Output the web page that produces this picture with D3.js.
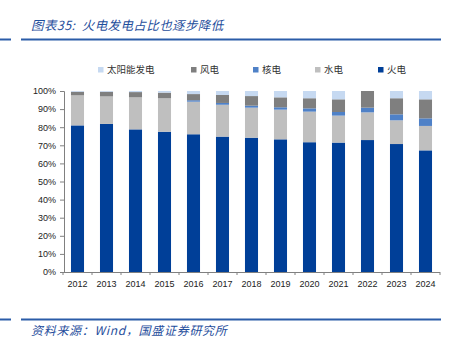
<!DOCTYPE html>
<html><head><meta charset="utf-8">
<script src="https://cdn.jsdelivr.net/npm/d3@7/dist/d3.min.js"></script>
<style>body{margin:0;background:#fff;}svg{display:block;}text{white-space:pre;}</style>
</head><body>
<svg id="c" width="455" height="342"></svg>
<script>
const years = ["2012","2013","2014","2015","2016","2017","2018","2019","2020","2021","2022","2023","2024"];
const thermal = [81.0,81.8,78.8,77.5,76.1,74.8,74.2,73.3,71.7,71.5,72.9,70.7,67.2];
const hydro   = [16.6,15.2,17.7,18.5,18.0,17.6,16.6,16.4,16.9,14.9,15.3,13.1,13.5];
const nuclear = [0.0,0.0,0.0,0.0,0.8,1.0,1.1,1.3,1.8,2.0,2.6,3.3,4.2];
const wind    = [2.0,2.6,2.9,3.1,3.4,4.4,5.3,5.5,5.6,7.0,9.2,8.9,10.5];
const solar   = [0.4,0.4,0.6,0.9,1.7,2.2,2.8,3.5,4.0,4.6,0.0,4.0,4.6];
const yTicks = [0,10,20,30,40,50,60,70,80,90,100];
const seriesNames = ["火电","水电","核电","风电","太阳能发电"];
const legendOrder = ["太阳能发电","风电","核电","水电","火电"];
const colors = {"火电":"#003f98","水电":"#bfbfbf","核电":"#4f81c7","风电":"#7f7f7f","太阳能发电":"#c6d9f1"};

const rows = years.map((y,i)=>({year:y,"火电":thermal[i],"水电":hydro[i],"核电":nuclear[i],"风电":wind[i],"太阳能发电":solar[i]}));
const stacked = d3.stack().keys(seriesNames)(rows);

const svg = d3.select("#c");
const blue = "#2b5ca8";
const cjk = "'Noto Sans CJK SC','Noto Sans',sans-serif";

// header
svg.append("text").attr("x",31).attr("y",30).attr("font-family",cjk).attr("font-style","italic")
  .attr("font-size",12.5).attr("letter-spacing",0.4).attr("fill","#1f4e9c").text("图表35:  火电发电占比也逐步降低");
svg.append("line").attr("x1",0).attr("x2",11).attr("y1",39.5).attr("y2",39.5).attr("stroke",blue).attr("stroke-width",2);
svg.append("line").attr("x1",21).attr("x2",441).attr("y1",39.5).attr("y2",39.5).attr("stroke",blue).attr("stroke-width",2);
// footer
svg.append("line").attr("x1",0).attr("x2",11).attr("y1",319.5).attr("y2",319.5).attr("stroke",blue).attr("stroke-width",2);
svg.append("line").attr("x1",21).attr("x2",441).attr("y1",319.5).attr("y2",319.5).attr("stroke",blue).attr("stroke-width",2);
svg.append("text").attr("x",31).attr("y",335).attr("font-family",cjk).attr("font-style","italic")
  .attr("font-size",12).attr("letter-spacing",0.7).attr("fill","#1f4e9c").text("资料来源：Wind，国盛证券研究所");

const x = d3.scaleBand().domain(years).range([63,440]).paddingInner(0.55).paddingOuter(0.275);
const y = d3.scaleLinear().domain([0,100]).range([272,91]);

const g = svg.append("g");
g.selectAll("g.s").data(stacked).join("g").attr("fill",d=>colors[d.key])
  .selectAll("rect").data(d=>d).join("rect")
  .attr("x",d=>x(d.data.year)).attr("width",x.bandwidth())
  .attr("y",d=>y(d[1])).attr("height",d=>Math.max(0,y(d[0])-y(d[1])));

// y axis
const ya = svg.append("g").attr("transform","translate(64,0)")
  .call(d3.axisLeft(y).tickValues(yTicks).tickFormat(d=>d+"%").tickSize(4).tickPadding(4));
ya.select(".domain").attr("stroke","#808080");
ya.selectAll(".tick line").attr("stroke","#808080");
ya.selectAll("text").attr("font-family","'Liberation Sans',Arial,sans-serif").attr("font-size",9).attr("fill","#222");

// x axis
const xa = svg.append("g").attr("transform","translate(0,272)")
  .call(d3.axisBottom(x).tickSize(0).tickPadding(9));
xa.select(".domain").attr("stroke","#808080").attr("d","M64,0.5H440");
xa.selectAll("text").attr("font-family","'Liberation Sans',Arial,sans-serif").attr("font-size",9).attr("fill","#222");
const step = x.step();
const start = x(years[0]) - (step - x.bandwidth())/2;
xa.selectAll("line.sep").data(d3.range(years.length+1)).join("line").attr("class","sep")
  .attr("x1",i=>start + i*step).attr("x2",i=>start + i*step)
  .attr("y1",0).attr("y2",3).attr("stroke","#808080");

// legend
const legX = {"太阳能发电":98,"风电":191,"核电":253,"水电":315,"火电":378};
const lg = svg.append("g").selectAll("g").data(legendOrder).join("g")
  .attr("transform",d=>`translate(${legX[d]},67)`);
lg.append("rect").attr("width",5.5).attr("height",5.5).attr("fill",d=>colors[d]);
lg.append("text").attr("x",9).attr("y",6).attr("font-family",cjk).attr("font-size",9.5).attr("fill","#333").text(d=>d);
</script>
</body></html>
